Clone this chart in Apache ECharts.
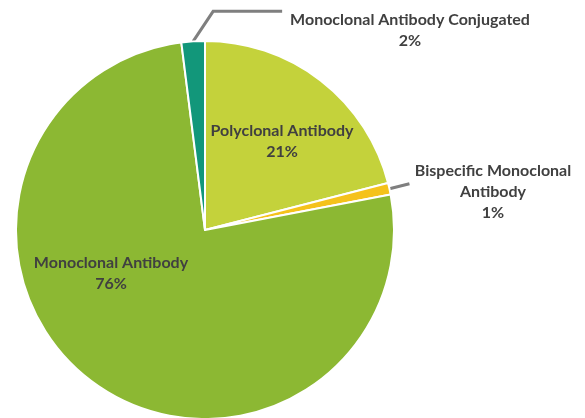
<!DOCTYPE html>
<html>
<head>
<meta charset="utf-8">
<script src="https://cdn.jsdelivr.net/npm/echarts@6/dist/echarts.min.js"></script>
<style>
  html, body { margin: 0; padding: 0; background: #fff; }
  #chart { width: 585px; height: 418px; }
</style>
</head>
<body>
<div id="chart"></div>
<script>
// antibody type share (%), clockwise from 12 o'clock
const categories = ['Polyclonal Antibody', 'Bispecific Monoclonal Antibody', 'Monoclonal Antibody', 'Monoclonal Antibody Conjugated'];
const shares = [21, 1, 76, 2];
const labelTexts = ['Polyclonal Antibody\n21%', 'Bispecific Monoclonal\nAntibody\n1%', 'Monoclonal Antibody\n76%', 'Monoclonal Antibody Conjugated\n2%'];
const colors = ['#c4d23b', '#f5c21b', '#8cb833', '#12977a'];
const insideLabel = [true, false, true, false];

const chart = echarts.init(document.getElementById('chart'));

const labelStyle = {
  fontFamily: 'Lato',
  fontWeight: 'bold',
  fontSize: 16,
  lineHeight: 21,
  color: '#404040',
  align: 'center'
};

const option = {
  backgroundColor: '#ffffff',
  animation: false,
  series: [{
    type: 'pie',
    center: [205, 230],
    radius: 189,
    startAngle: 90,
    clockwise: true,
    avoidLabelOverlap: false,
    itemStyle: { borderColor: '#ffffff', borderWidth: 2 },
    labelLine: {
      show: true,
      smooth: false,
      lineStyle: { color: '#7f7f7f', width: 3 }
    },
    data: categories.map((name, i) => ({
      name: name,
      value: shares[i],
      itemStyle: { color: colors[i] },
      label: Object.assign({
        show: true,
        position: insideLabel[i] ? 'inside' : 'outside',
        formatter: labelTexts[i]
      }, labelStyle),
      labelLine: { show: !insideLabel[i] }
    })),
    labelLayout: function (params) {
      const p0 = params.labelLinePoints ? params.labelLinePoints[0] : null;
      switch (params.dataIndex) {
        case 0:
          return { x: 282, y: 141, align: 'center', verticalAlign: 'middle' };
        case 2:
          return { x: 111, y: 273, align: 'center', verticalAlign: 'middle' };
        case 1:
          return {
            x: 493, y: 192, align: 'center', verticalAlign: 'middle',
            labelLinePoints: p0 ? [p0, [p0[0] + 10, p0[1] - 2.5], [p0[0] + 20, p0[1] - 5]] : undefined
          };
        case 3:
          return {
            x: 410, y: 30, align: 'center', verticalAlign: 'middle',
            labelLinePoints: p0 ? [p0, [p0[0] + 20, p0[1] - 30], [p0[0] + 89, p0[1] - 30]] : undefined
          };
      }
    }
  }]
};

chart.setOption(option);
</script>
</body>
</html>
